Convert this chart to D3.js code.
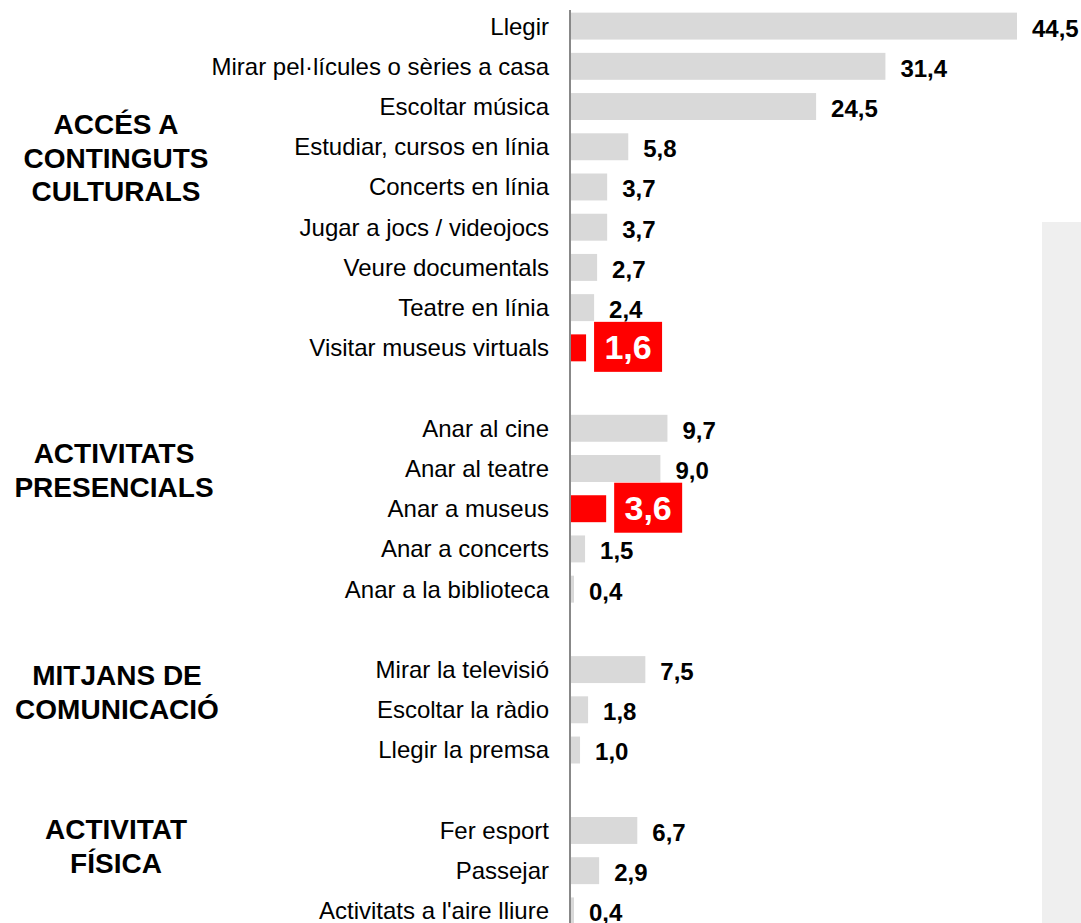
<!DOCTYPE html>
<html>
<head>
<meta charset="utf-8">
<script src="https://cdn.jsdelivr.net/npm/d3@7"></script>
<style>
  body { margin: 0; background: #fff; }
  svg { font-family: "Liberation Sans", Arial, sans-serif; }
</style>
</head>
<body>
<div id="chart"></div>
<script>
// rows in drawing order; blank names are spacer rows between groups
const categories = [
  'Llegir', 'Mirar pel·lícules o sèries a casa', 'Escoltar música', 'Estudiar, cursos en línia',
  'Concerts en línia', 'Jugar a jocs / videojocs', 'Veure documentals', 'Teatre en línia',
  'Visitar museus virtuals', '',
  'Anar al cine', 'Anar al teatre', 'Anar a museus', 'Anar a concerts', 'Anar a la biblioteca', ' ',
  'Mirar la televisió', 'Escoltar la ràdio', 'Llegir la premsa', '  ',
  'Fer esport', 'Passejar', "Activitats a l'aire lliure"
]
const values = [44.5, 31.4, 24.5, 5.8, 3.7, 3.7, 2.7, 2.4, 1.6, null,
  9.7, 9.0, 3.6, 1.5, 0.4, null,
  7.5, 1.8, 1.0, null,
  6.7, 2.9, 0.4]
const highlighted = ['Visitar museus virtuals', 'Anar a museus']

const groupNames = [
  ['ACCÉS A', 'CONTINGUTS', 'CULTURALS'],
  ['ACTIVITATS', 'PRESENCIALS'],
  ['MITJANS DE', 'COMUNICACIÓ'],
  ['ACTIVITAT', 'FÍSICA']
]

const width = 1081, height = 923
const svg = d3.select('#chart').append('svg')
  .attr('width', width).attr('height', height)

const x = d3.scaleLinear().domain([0, 44.5]).range([570, 1017])
const y = d3.scaleBand().domain(categories).range([6, 931]).paddingInner(0.33).paddingOuter(0.165)

// light background panel at right
svg.append('rect')
  .attr('x', 1042).attr('y', 222).attr('width', 39).attr('height', height - 222)
  .attr('fill', '#efefef')

const rows = categories.map((c, i) => ({ cat: c, value: values[i] })).filter(d => d.value !== null)

svg.selectAll('.bar').data(rows).enter().append('rect')
  .attr('x', x(0))
  .attr('y', d => y(d.cat))
  .attr('width', d => x(d.value) - x(0))
  .attr('height', y.bandwidth())
  .attr('fill', d => highlighted.includes(d.cat) ? '#ff0000' : '#d9d9d9')

// category labels
svg.selectAll('.cat').data(rows).enter().append('text')
  .attr('x', 549)
  .attr('y', d => y(d.cat) + y.bandwidth() / 2)
  .attr('dy', '0.35em')
  .attr('text-anchor', 'end')
  .attr('font-size', 24)
  .attr('fill', '#000')
  .text(d => d.cat)

const fmt = v => v.toFixed(1).replace('.', ',')

// normal value labels
svg.selectAll('.val').data(rows.filter(d => !highlighted.includes(d.cat))).enter().append('text')
  .attr('x', d => x(d.value) + 15)
  .attr('y', d => y(d.cat) + y.bandwidth() / 2 + 2)
  .attr('dy', '0.35em')
  .attr('font-size', 24)
  .attr('font-weight', 'bold')
  .attr('fill', '#000')
  .text(d => fmt(d.value))

// highlighted value labels in red boxes
const hl = svg.selectAll('.hl').data(rows.filter(d => highlighted.includes(d.cat))).enter().append('g')
hl.append('rect')
  .attr('x', d => x(d.value) + 8)
  .attr('y', d => y(d.cat) + y.bandwidth() / 2 - 26)
  .attr('width', 68)
  .attr('height', 50)
  .attr('fill', '#ff0000')
hl.append('text')
  .attr('x', d => x(d.value) + 42)
  .attr('y', d => y(d.cat) + y.bandwidth() / 2 - 1)
  .attr('dy', '0.36em')
  .attr('text-anchor', 'middle')
  .attr('font-size', 34)
  .attr('font-weight', 'bold')
  .attr('fill', '#fff')
  .text(d => fmt(d.value))

// axis line
svg.append('line')
  .attr('x1', x(0)).attr('x2', x(0))
  .attr('y1', 10).attr('y2', height)
  .attr('stroke', '#888').attr('stroke-width', 2)

// group labels (centre x and centre y of each block)
const groupX = [116, 114, 117, 116]
const groupY = [158, 470, 692, 846]
groupNames.forEach((lines, gi) => {
  const lh = 33.5
  const t = svg.append('text')
    .attr('text-anchor', 'middle')
    .attr('font-size', 28)
    .attr('font-weight', 'bold')
    .attr('fill', '#000')
  lines.forEach((l, i) => {
    t.append('tspan')
      .attr('x', groupX[gi])
      .attr('y', groupY[gi] + (i - (lines.length - 1) / 2) * lh)
      .attr('dy', '0.35em')
      .text(l)
  })
})
</script>
</body>
</html>
